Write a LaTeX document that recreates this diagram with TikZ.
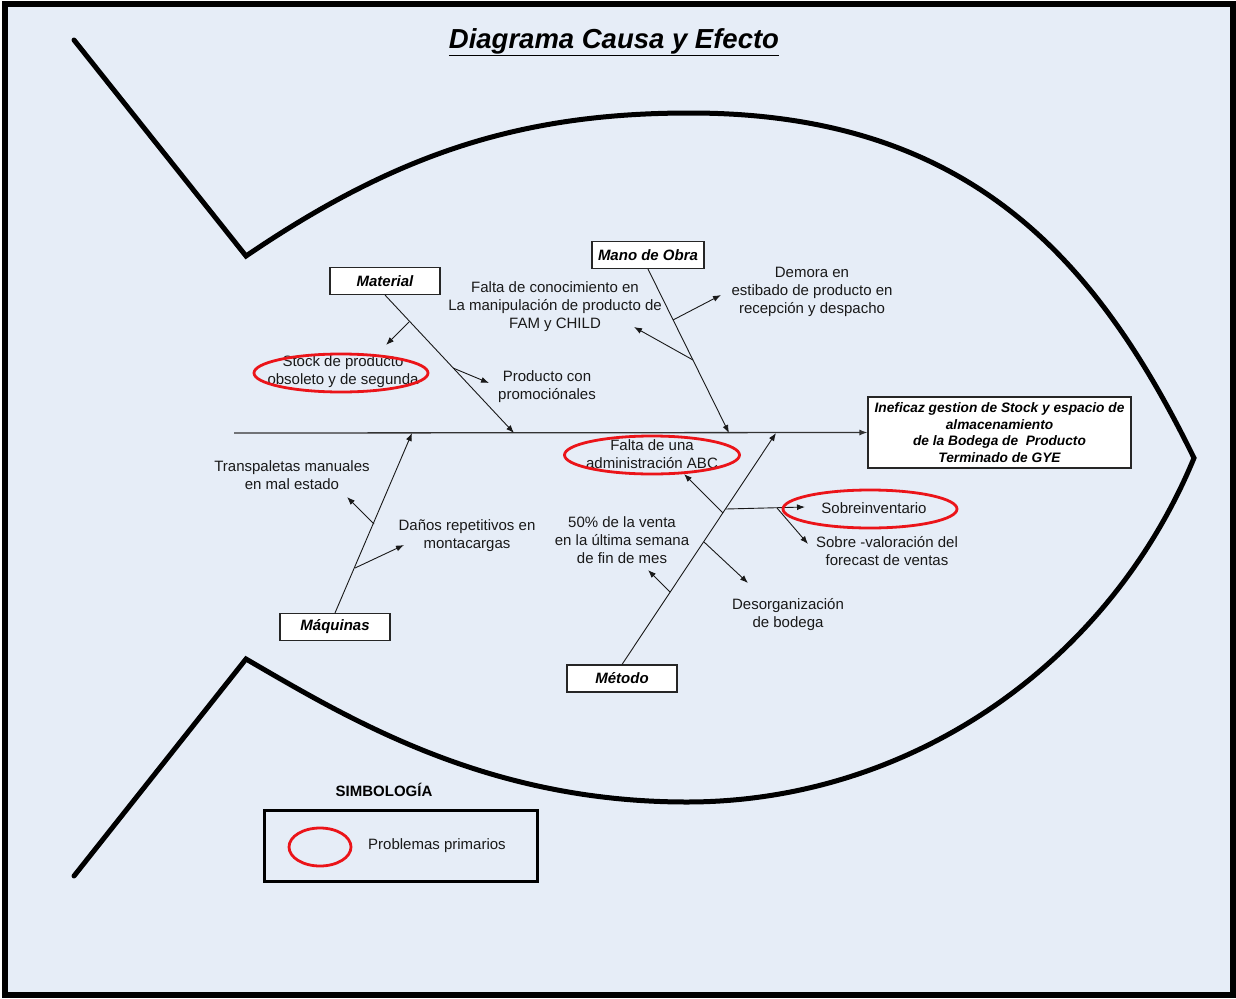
\documentclass[tikz,border=0pt]{standalone}
\usepackage{fontspec}
\setmainfont{Liberation Sans}
\usetikzlibrary{arrows.meta,shapes.geometric}
\definecolor{bgblue}{RGB}{230,237,247}
\definecolor{ovalred}{RGB}{235,20,25}
\tikzset{
  fishline/.style={line width=5pt, line join=miter, line cap=round},
  catbox/.style={draw=black!85, line width=1.1pt, fill=white, minimum height=27pt, inner sep=2pt, font=\fontsize{15}{17}\selectfont\bfseries\itshape},
  lbl/.style={inner sep=0pt, align=center, font=\fontsize{15}{18}\selectfont, text=black!90},
  bone/.style={line width=0.9pt, draw=black!90},
  subarrow/.style={line width=0.9pt, draw=black!90, -{Latex[length=8pt,width=6pt]}},
  primoval/.style={draw=ovalred, line width=2.8pt, ellipse, inner sep=0pt},
}
\begin{document}
\begin{tikzpicture}[x=1pt,y=-1pt]
\useasboundingbox (0,0) rectangle (1236,998);
% background and frame
\fill[bgblue] (4.5,4.5) rectangle (1232.5,994.5);
\draw[line width=6pt] (4.5,4.5) rectangle (1232.5,994.5);

% title
\node[inner sep=0pt, font=\fontsize{27.5}{31}\selectfont\bfseries\itshape] (title) at (614,42) {\underline{Diagrama Causa y Efecto}};

% fish outline
\draw[fishline] (74,40) -- (246,256)
  .. controls (396,154) and (520,113) .. (690,113)
  .. controls (970,113) and (1097,260) .. (1194,458)
  .. controls (1107.8,666.5) and (908,802) .. (687,802)
  .. controls (487,802) and (351,720) .. (246,659)
  -- (74,876);

% effect box
\node[draw=black!85, line width=1.1pt, fill=white, minimum width=263pt, minimum height=71pt, inner sep=0pt, align=center,
  font=\fontsize{13.7}{16.6}\selectfont\bfseries\itshape] (effect) at (999.5,432.5)
  {Ineficaz gestion de Stock y espacio de\\almacenamiento\\de la Bodega de\ \ Producto\\Terminado de GYE};

% spine
\coordinate (spineL) at (234,433);
\draw[line width=1.3pt, draw=black!80, -{Latex[length=8pt,width=6pt]}] (spineL) -- (effect.west);

% category boxes
\node[catbox, minimum width=110pt] (mat) at (385,281) {Material};
\node[catbox, minimum width=112pt] (mano) at (648,255) {Mano de Obra};
\node[catbox, minimum width=110pt] (maq) at (335,627) {Máquinas};
\node[catbox, minimum width=110pt] (met) at (622,678.5) {Método};

% bone end points on the spine
\coordinate (matS) at (514,433);
\coordinate (manoS) at (729,433);
\coordinate (maqS) at (412,433);
\coordinate (metS) at (776,433);

\draw[bone, -{Latex[length=8pt,width=6pt]}] (mat.south) -- (matS);
\draw[bone, -{Latex[length=8pt,width=6pt]}] (mano.south) -- (manoS);
\draw[bone, -{Latex[length=8pt,width=6pt]}] (maq.north) -- (maqS);
\draw[bone, -{Latex[length=8pt,width=6pt]}] (met.north) -- (metS);

% labels
\node[lbl] (tStock) at (343,372) {Stock de producto\\obsoleto y de segunda};
\node[lbl] (tProm) at (547,387) {Producto con\\promociónales};
\node[lbl] (tFalta) at (555,307) {Falta de conocimiento en\\La manipulación de producto de\\FAM y CHILD};
\node[lbl] (tDemora) at (812,292) {Demora en\\estibado de producto en\\recepción y despacho};
\node[lbl] (tTrans) at (292,475.5) {Transpaletas manuales\\en mal estado};
\node[lbl] (tDanos) at (467,536) {Daños repetitivos en\\montacargas};
\node[lbl] (tABC) at (652,454) {Falta de una\\administración ABC};
\node[lbl] (t50) at (622,540) {50\% de la venta\\en la última semana\\de fin de mes};
\node[lbl] (tSobreinv) at (874,508) {Sobreinventario};
\node[lbl] (tSobreval) at (887,551) {Sobre -valoración del\\forecast de ventas};
\node[lbl] (tDesorg) at (788,615) {Desorganización\\de bodega};

% sub-branches: Material
\coordinate (m1) at (409,322); \coordinate (m1e) at (386,345);
\coordinate (m2) at (453,368); \coordinate (m2e) at (489,383);
\draw[subarrow] (m1) -- (m1e);
\draw[subarrow] (m2) -- (m2e);
% Mano de Obra
\coordinate (o1) at (673,320); \coordinate (o1e) at (721,295);
\coordinate (o2) at (693,360); \coordinate (o2e) at (634,327);
\draw[subarrow] (o1) -- (o1e);
\draw[subarrow] (o2) -- (o2e);
% Maquinas
\coordinate (q1) at (374,524); \coordinate (q1e) at (347,497);
\coordinate (q2) at (355,568); \coordinate (q2e) at (404,545);
\draw[subarrow] (q1) -- (q1e);
\draw[subarrow] (q2) -- (q2e);
% Metodo
\coordinate (e1) at (723,513); \coordinate (e1e) at (684,474);
\coordinate (e2) at (726,509); \coordinate (e2e) at (805,507);
\coordinate (e3) at (777,508); \coordinate (e3e) at (808,544);
\coordinate (e4) at (704,542); \coordinate (e4e) at (748,583);
\coordinate (e5) at (670,592); \coordinate (e5e) at (648,570);
\draw[subarrow] (e1) -- (e1e);
\draw[subarrow] (e2) -- (e2e);
\draw[subarrow] (e3) -- (e3e);
\draw[subarrow] (e4) -- (e4e);
\draw[subarrow] (e5) -- (e5e);

% primary-problem ovals
\node[primoval, minimum width=174pt, minimum height=38pt] (oStock) at (341,373) {};
\node[primoval, minimum width=175pt, minimum height=38pt] (oABC) at (652,455) {};
\node[primoval, minimum width=174pt, minimum height=38pt] (oSobre) at (870,509) {};

% legend
\node[inner sep=0pt, font=\fontsize{15}{17}\selectfont\bfseries] (simb) at (384,790) {SIMBOLOGÍA};
\node[draw, line width=3pt, minimum width=273pt, minimum height=71pt, inner sep=0pt] (legend) at (400.5,845.5) {};
\node[primoval, minimum width=62pt, minimum height=38pt] (legOval) at (320,847) {};
\node[lbl] (legText) at (437,846) {Problemas primarios};
\end{tikzpicture}
\end{document}
